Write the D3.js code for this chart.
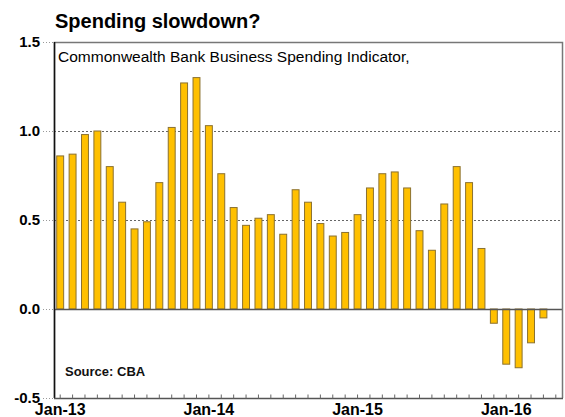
<!DOCTYPE html>
<html>
<head>
<meta charset="utf-8">
<script src="https://cdn.jsdelivr.net/npm/d3@7/dist/d3.min.js"></script>
<style>
  html, body { margin: 0; padding: 0; background: #fff; }
  svg { display: block; font-family: "Liberation Sans", Arial, sans-serif; }
</style>
</head>
<body>
<svg id="chart" width="565" height="417"></svg>
<script>
// ---- data ----
const months = ["Jan-13","Feb-13","Mar-13","Apr-13","May-13","Jun-13","Jul-13","Aug-13","Sep-13","Oct-13","Nov-13","Dec-13",
  "Jan-14","Feb-14","Mar-14","Apr-14","May-14","Jun-14","Jul-14","Aug-14","Sep-14","Oct-14","Nov-14","Dec-14",
  "Jan-15","Feb-15","Mar-15","Apr-15","May-15","Jun-15","Jul-15","Aug-15","Sep-15","Oct-15","Nov-15","Dec-15",
  "Jan-16","Feb-16","Mar-16","Apr-16","May-16"];
const values = [0.86,0.87,0.98,1.00,0.80,0.60,0.45,0.49,0.71,1.02,1.27,1.30,
  1.03,0.76,0.57,0.47,0.51,0.53,0.42,0.67,0.60,0.48,0.41,0.43,
  0.53,0.68,0.76,0.77,0.68,0.44,0.33,0.59,0.80,0.71,0.34,-0.08,
  -0.31,-0.33,-0.19,-0.05];
const yTicks = [-0.5, 0.0, 0.5, 1.0, 1.5];
const xLabels = ["Jan-13","Jan-14","Jan-15","Jan-16"];
const title = "Spending slowdown?";
const subtitle = "Commonwealth Bank Business Spending Indicator,";
const source = "Source: CBA";

// ---- layout ----
const svg = d3.select("#chart");
const L = 54, R = 562, T = 42, B = 398;

const x = d3.scaleBand().domain(months).range([L, R]).paddingInner(0.36).paddingOuter(0.18);
const y = d3.scaleLinear().domain([-0.5, 1.5]).range([B, T]);

// title
svg.append("text").attr("x", 55).attr("y", 28)
  .attr("font-size", 20).attr("font-weight", "bold").attr("fill", "#000").text(title);

// dotted gridlines and outside stubs
svg.append("g").selectAll("line").data([0.5, 1.0]).join("line")
  .attr("x1", L).attr("x2", R).attr("y1", d => y(d) + 0.5).attr("y2", d => y(d) + 0.5)
  .attr("stroke", "#666").attr("stroke-width", 1).attr("stroke-dasharray", "2,2");
svg.append("g").selectAll("line").data(yTicks).join("line")
  .attr("x1", 43).attr("x2", L).attr("y1", d => y(d) + 0.5).attr("y2", d => y(d) + 0.5)
  .attr("stroke", "#999").attr("stroke-width", 1).attr("stroke-dasharray", "1,2");

// bars
svg.append("g").selectAll("rect").data(values).join("rect")
  .attr("x", (d, i) => x(months[i]) + 0.5)
  .attr("width", x.bandwidth() - 1)
  .attr("y", d => y(Math.max(0, d)))
  .attr("height", d => Math.abs(y(d) - y(0)))
  .attr("fill", "#FFC000")
  .attr("stroke", "#8B7130").attr("stroke-width", 1);

// zero line
svg.append("line").attr("x1", L).attr("x2", R).attr("y1", y(0) + 0.5).attr("y2", y(0) + 0.5)
  .attr("stroke", "#555").attr("stroke-width", 1.3);

// frame
svg.append("path")
  .attr("d", `M${L + 0.5},${B}V${T + 0.5}H${R + 0.5}V${B}`)
  .attr("fill", "none").attr("stroke", "#777").attr("stroke-width", 1.5);
svg.append("line").attr("x1", L + 0.5).attr("x2", L + 0.5).attr("y1", T).attr("y2", B)
  .attr("stroke", "#111").attr("stroke-width", 1.5);

// bottom axis with small upward ticks
const xAxis = d3.axisBottom(x).tickSize(-4).tickFormat("");
const gx = svg.append("g").attr("transform", `translate(0,${B + 0.5})`).call(xAxis);
gx.select(".domain").attr("stroke", "#555").attr("stroke-width", 1.3).attr("d", `M${L},0H${R + 1}`);
gx.selectAll(".tick line").attr("stroke", "#666");

// x labels
svg.append("g").selectAll("text").data(xLabels).join("text")
  .attr("x", d => x(d) + x.bandwidth() / 2).attr("y", 415)
  .attr("text-anchor", "middle").attr("font-size", 16).attr("font-weight", "bold").text(d => d);

// y labels
svg.append("g").selectAll("text").data(yTicks).join("text")
  .attr("x", 40).attr("y", d => y(d) + 5)
  .attr("text-anchor", "end").attr("font-size", 15).attr("font-weight", "bold")
  .text(d => d3.format(".1f")(d).replace("−", "-"));

// subtitle + source
svg.append("text").attr("x", 58).attr("y", 62).attr("font-size", 15.5).attr("fill", "#000").text(subtitle);
svg.append("text").attr("x", 65).attr("y", 376).attr("font-size", 13).attr("font-weight", "bold").attr("fill", "#111").text(source);
</script>
</body>
</html>
